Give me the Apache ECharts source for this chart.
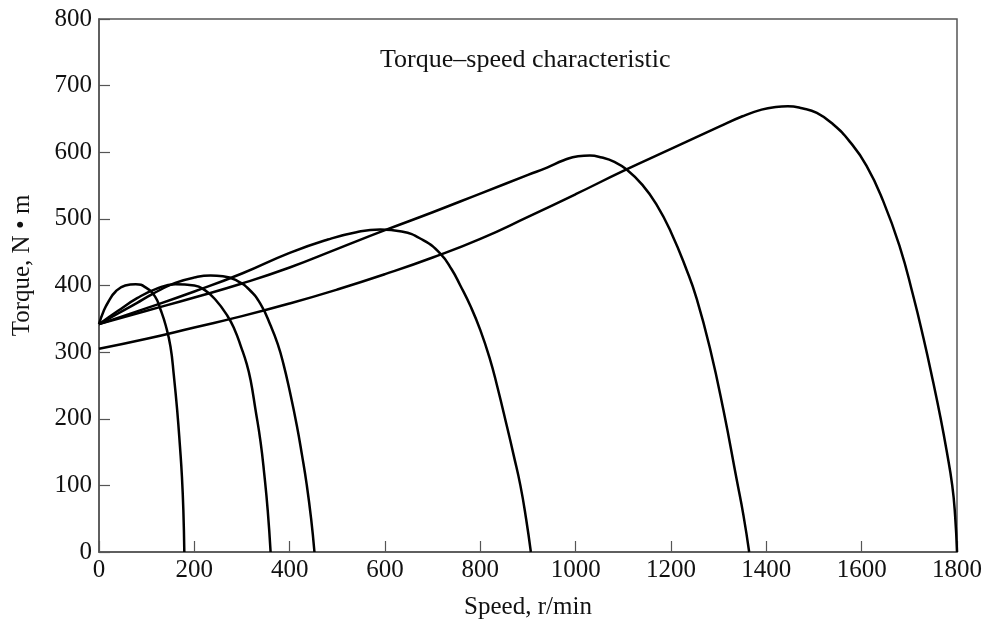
<!DOCTYPE html>
<html>
<head>
<meta charset="utf-8">
<script src="https://cdn.jsdelivr.net/npm/echarts@6/dist/echarts.min.js"></script>
<style>
html,body{margin:0;padding:0;background:#fff;}
#chart{width:986px;height:622px;}
</style>
</head>
<body>
<div id="chart"></div>
<script>
// Torque–speed curves: [speed r/min, torque N·m]
const curve180 = [[0,342],[10,362],[20,376],[35,391],[55,400],[77,402],[100,396],[118,383],[129,364],[140,340],[150,308],[157,265],[164,213],[170,157],[174,113],[177,62],[179,0]];
const curve360 = [[0,342],[40,362],[80,381],[120,395],[160,402],[200,400],[222,393],[244,379],[269,355],[285,333],[298,308],[310,282],[318,258],[328,215],[339,165],[347,115],[354,62],[360,0]];
const curve450 = [[0,342],[40,358],[80,374],[104,384],[130,394],[160,404],[200,412],[234,415],[260,414],[290,407],[315,394],[339,372],[360,340],[375,312],[387,282],[400,242],[415,190],[426,145],[436,100],[445,50],[452,0]];
const curve900 = [[0,342],[100,366],[200,391],[300,418],[400,449],[480,469],[540,480],[590,484],[635,481],[680,468],[716,448],[740,424],[758,400],[780,368],[800,333],[820,290],[835,250],[856,188],[870,145],[884,100],[896,50],[906,0]];
const curve1360 = [[0,342],[100,362],[200,382],[300,403],[400,427],[500,455],[600,483],[700,510],[800,538],[900,566],[940,577],[975,588],[1005,594],[1030,595],[1055,592],[1080,586],[1107,574],[1140,551],[1170,521],[1200,480],[1233,423],[1254,380],[1282,305],[1310,213],[1338,108],[1352,55],[1364,0]];
const curve1800 = [[0,305],[100,320],[200,337],[300,354],[400,373],[500,394],[600,417],[700,442],[800,470],[900,503],[1000,537],[1100,572],[1200,605],[1300,638],[1350,654],[1390,664],[1420,668],[1445,669],[1475,666],[1506,659],[1540,642],[1575,616],[1610,580],[1645,527],[1680,458],[1708,385],[1730,320],[1750,255],[1765,203],[1778,153],[1790,100],[1796,55],[1800,0]];

const xTicks = {min:0, max:1800, step:200};
const yTicks = {min:0, max:800, step:100};
const titleText = 'Torque–speed characteristic';
const xName = 'Speed, r/min';
const yName = 'Torque, N • m';

const FONT = 'Liberation Serif';
const curves = [curve180, curve360, curve450, curve900, curve1360, curve1800];

const chart = echarts.init(document.getElementById('chart'), null, {renderer:'canvas'});
chart.setOption({
  animation:false,
  backgroundColor:'#fff',
  title:{
    text:titleText, left:375, top:42,
    textStyle:{fontFamily:FONT, fontSize:26, fontWeight:'normal', color:'#111'}
  },
  grid:{left:99, right:29, top:19, bottom:70, containLabel:false, outerBoundsMode:'none',
        show:true, borderColor:'#555', borderWidth:1.5},
  xAxis:{
    type:'value', min:xTicks.min, max:xTicks.max, interval:xTicks.step,
    name:xName, nameLocation:'middle', nameGap:43,
    nameTextStyle:{fontFamily:FONT, fontSize:25, color:'#111'},
    axisLine:{show:true, lineStyle:{color:'#555', width:1.5}},
    axisTick:{show:true, inside:true, length:11, lineStyle:{color:'#555', width:1.2}},
    axisLabel:{fontFamily:FONT, fontSize:25, color:'#111', margin:6, formatter:function(v){return String(v);}},
    splitLine:{show:false}
  },
  yAxis:{
    type:'value', min:yTicks.min, max:yTicks.max, interval:yTicks.step,
    name:yName, nameLocation:'middle', nameGap:64, nameRotate:90,
    nameTextStyle:{fontFamily:FONT, fontSize:25, color:'#111', padding:[0,0,0,40]},
    axisLine:{show:true, lineStyle:{color:'#555', width:1.5}},
    axisTick:{show:true, inside:true, length:11, lineStyle:{color:'#555', width:1.2}},
    axisLabel:{fontFamily:FONT, fontSize:25, color:'#111', margin:7, formatter:function(v){return String(v);}},
    splitLine:{show:false}
  },
  series: curves.map(function(c){
    return {
      type:'line', data:c, showSymbol:false, smooth:0.5,
      lineStyle:{color:'#000', width:2.5}, silent:true
    };
  })
});
</script>
</body>
</html>
